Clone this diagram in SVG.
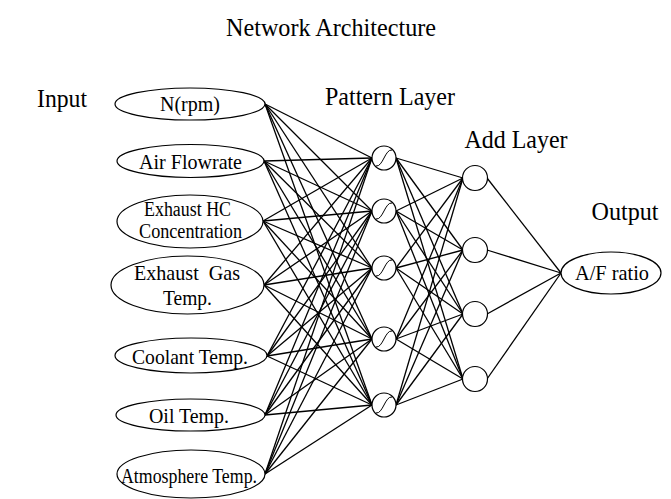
<svg xmlns="http://www.w3.org/2000/svg" width="671" height="499" viewBox="0 0 671 499">
<style>
text{font-family:"Liberation Serif","Times New Roman",serif;fill:#000;text-anchor:middle}
.h{font-size:26px}
.t{font-size:22px}
.s{font-size:20px}
.n{fill:#fff;stroke:#000;stroke-width:1.2}
.sig{fill:none;stroke:#000;stroke-width:1}
#connectors line{stroke:#000;stroke-width:1.3}
</style>
<rect width="671" height="499" fill="#fff"/>
<text class="h" x="331" y="36" textLength="210" lengthAdjust="spacingAndGlyphs">Network Architecture</text>
<text class="h" x="62" y="107" textLength="50" lengthAdjust="spacingAndGlyphs">Input</text>
<text class="h" x="390" y="105" textLength="130" lengthAdjust="spacingAndGlyphs">Pattern Layer</text>
<text class="h" x="516" y="148" textLength="103" lengthAdjust="spacingAndGlyphs">Add Layer</text>
<text class="h" x="625" y="220" textLength="67" lengthAdjust="spacingAndGlyphs">Output</text>
<g id="connectors">
<line x1="265" y1="104" x2="372" y2="158"/><line x1="265" y1="104" x2="372" y2="211"/><line x1="265" y1="104" x2="372" y2="268"/><line x1="265" y1="104" x2="372" y2="339"/><line x1="265" y1="104" x2="372" y2="405"/>
<line x1="264" y1="161" x2="372" y2="158"/><line x1="264" y1="161" x2="372" y2="211"/><line x1="264" y1="161" x2="372" y2="268"/><line x1="264" y1="161" x2="372" y2="339"/><line x1="264" y1="161" x2="372" y2="405"/>
<line x1="263" y1="221" x2="372" y2="158"/><line x1="263" y1="221" x2="372" y2="211"/><line x1="263" y1="221" x2="372" y2="268"/><line x1="263" y1="221" x2="372" y2="339"/><line x1="263" y1="221" x2="372" y2="405"/>
<line x1="264" y1="285" x2="372" y2="158"/><line x1="264" y1="285" x2="372" y2="211"/><line x1="264" y1="285" x2="372" y2="268"/><line x1="264" y1="285" x2="372" y2="339"/><line x1="264" y1="285" x2="372" y2="405"/>
<line x1="267" y1="356" x2="372" y2="158"/><line x1="267" y1="356" x2="372" y2="211"/><line x1="267" y1="356" x2="372" y2="268"/><line x1="267" y1="356" x2="372" y2="339"/><line x1="267" y1="356" x2="372" y2="405"/>
<line x1="265" y1="415" x2="372" y2="158"/><line x1="265" y1="415" x2="372" y2="211"/><line x1="265" y1="415" x2="372" y2="268"/><line x1="265" y1="415" x2="372" y2="339"/><line x1="265" y1="415" x2="372" y2="405"/>
<line x1="265" y1="474" x2="372" y2="158"/><line x1="265" y1="474" x2="372" y2="211"/><line x1="265" y1="474" x2="372" y2="268"/><line x1="265" y1="474" x2="372" y2="339"/><line x1="265" y1="474" x2="372" y2="405"/>
<line x1="396" y1="158" x2="463" y2="178"/><line x1="396" y1="158" x2="463" y2="250"/><line x1="396" y1="158" x2="463" y2="314"/><line x1="396" y1="158" x2="463" y2="379"/>
<line x1="396" y1="211" x2="463" y2="178"/><line x1="396" y1="211" x2="463" y2="250"/><line x1="396" y1="211" x2="463" y2="314"/><line x1="396" y1="211" x2="463" y2="379"/>
<line x1="396" y1="268" x2="463" y2="178"/><line x1="396" y1="268" x2="463" y2="250"/><line x1="396" y1="268" x2="463" y2="314"/><line x1="396" y1="268" x2="463" y2="379"/>
<line x1="396" y1="339" x2="463" y2="178"/><line x1="396" y1="339" x2="463" y2="250"/><line x1="396" y1="339" x2="463" y2="314"/><line x1="396" y1="339" x2="463" y2="379"/>
<line x1="396" y1="405" x2="463" y2="178"/><line x1="396" y1="405" x2="463" y2="250"/><line x1="396" y1="405" x2="463" y2="314"/><line x1="396" y1="405" x2="463" y2="379"/>
<line x1="487" y1="178" x2="561" y2="273"/><line x1="487" y1="250" x2="561" y2="273"/><line x1="487" y1="314" x2="561" y2="273"/><line x1="487" y1="379" x2="561" y2="273"/>
</g>
<g id="in1"><ellipse class="n" cx="190" cy="104" rx="75" ry="16"/><text class="t" x="190" y="111" textLength="60" lengthAdjust="spacingAndGlyphs">N(rpm)</text></g>
<g id="in2"><ellipse class="n" cx="190.5" cy="161" rx="73.5" ry="16.5"/><text class="t" x="190.5" y="169" textLength="103" lengthAdjust="spacingAndGlyphs">Air Flowrate</text></g>
<g id="in3"><ellipse class="n" cx="190" cy="221.5" rx="73" ry="26.5"/><text class="s" x="187.5" y="216" textLength="87" lengthAdjust="spacingAndGlyphs">Exhaust HC</text><text class="s" x="190.5" y="238" textLength="103" lengthAdjust="spacingAndGlyphs">Concentration</text></g>
<g id="in4"><ellipse class="n" cx="187.5" cy="285" rx="76.5" ry="29"/><text class="t" x="187" y="280" textLength="106" lengthAdjust="spacingAndGlyphs">Exhaust&#160; Gas</text><text class="t" x="187.5" y="305" textLength="49" lengthAdjust="spacingAndGlyphs">Temp.</text></g>
<g id="in5"><ellipse class="n" cx="191" cy="355.5" rx="76" ry="17.5"/><text class="t" x="190" y="364" textLength="116" lengthAdjust="spacingAndGlyphs">Coolant Temp.</text></g>
<g id="in6"><ellipse class="n" cx="190.5" cy="415" rx="74.5" ry="16"/><text class="t" x="189" y="423" textLength="80" lengthAdjust="spacingAndGlyphs">Oil Temp.</text></g>
<g id="in7"><ellipse class="n" cx="191" cy="474" rx="74" ry="24"/><text class="s" x="189" y="483" textLength="136" lengthAdjust="spacingAndGlyphs">Atmosphere Temp.</text></g>
<g id="p1"><circle class="n" cx="384" cy="158" r="12"/><path class="sig" d="M376 166 C383 167 385 149 392 150"/></g>
<g id="p2"><circle class="n" cx="384" cy="211" r="12"/><path class="sig" d="M376 219 C383 220 385 202 392 203"/></g>
<g id="p3"><circle class="n" cx="384" cy="268" r="12"/><path class="sig" d="M376 276 C383 277 385 259 392 260"/></g>
<g id="p4"><circle class="n" cx="384" cy="339" r="12"/><path class="sig" d="M376 347 C383 348 385 330 392 331"/></g>
<g id="p5"><circle class="n" cx="384" cy="405" r="12"/><path class="sig" d="M376 413 C383 414 385 396 392 397"/></g>
<g id="a1"><circle class="n" cx="475" cy="178" r="12.5"/></g>
<g id="a2"><circle class="n" cx="475" cy="250" r="12.5"/></g>
<g id="a3"><circle class="n" cx="475" cy="314" r="12.5"/></g>
<g id="a4"><circle class="n" cx="475" cy="379" r="12.5"/></g>
<g id="out"><ellipse class="n" cx="611" cy="273" rx="50" ry="21"/><text class="t" x="612" y="280" textLength="74" lengthAdjust="spacingAndGlyphs">A/F ratio</text></g>
</svg>
